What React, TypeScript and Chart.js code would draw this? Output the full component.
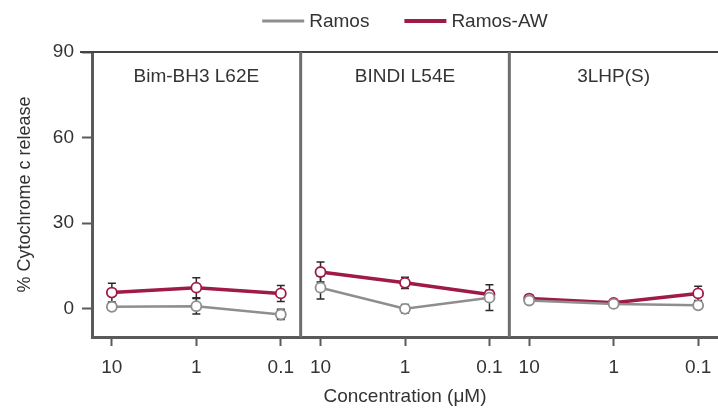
import React, { useEffect, useRef } from 'react';
import { Chart, registerables } from 'chart.js';

Chart.register(...registerables);

// ---- data ----
const panelTitles = ['Bim-BH3 L62E', 'BINDI L54E', '3LHP(S)'];
const concentrations = ['10', '1', '0.1'];
const yTickValues = [0, 30, 60, 90];
const seriesNames = ['Ramos', 'Ramos-AW'];
const xTitle = 'Concentration (\u03bcM)';
const yTitle = '% Cytochrome c release';

// values per panel (10, 1, 0.1 µM)
const ramosValues = [
  [0.6, 0.8, -2.1],
  [7.3, -0.1, 3.8],
  [2.8, 1.6, 1.1],
];
const ramosErrors = [
  [1.2, 2.7, 1.8],
  [4.0, 1.5, 4.5],
  [1.0, 0.8, 1.0],
];
const ramosAwValues = [
  [5.6, 7.3, 5.3],
  [12.8, 9.0, 4.9],
  [3.5, 2.0, 5.3],
];
const ramosAwErrors = [
  [3.3, 3.5, 2.8],
  [3.5, 2.0, 1.5],
  [1.0, 0.8, 2.5],
];

// ---- styles ----
const FONT = '"Liberation Sans", Arial, sans-serif';
const FS = 19;
const TEXT = '#333333';
const GRAY = '#8e8e8e';
const CRIMSON = '#9e1a49';
const AXIS = '#5a5a5a';
const M = 0.235; // margin inside each panel (in category units)
const W = 2 + 2 * M; // panel width in x units

const xPos = (p: number, i: number) => p * W + M + i;

function buildPoints(values: number[][]) {
  const pts: { x: number; y: number | null }[] = [];
  values.forEach((row, p) => {
    row.forEach((v, i) => pts.push({ x: xPos(p, i), y: v }));
    if (p < values.length - 1) pts.push({ x: (p + 1) * W, y: null });
  });
  return pts;
}

const tickPositions: number[] = [];
panelTitles.forEach((_, p) => concentrations.forEach((_, i) => tickPositions.push(xPos(p, i))));

const errorPlugin = {
  id: 'errorBars',
  beforeDatasetsDraw(chart: any) {
    const { ctx, scales } = chart;
    const xs = scales.x, ys = scales.y;
    const sets = [
      { v: ramosValues, e: ramosErrors },
      { v: ramosAwValues, e: ramosAwErrors },
    ];
    ctx.save();
    ctx.strokeStyle = '#2a2a2a';
    ctx.lineWidth = 1.5;
    sets.forEach(({ v, e }) => {
      v.forEach((row, p) =>
        row.forEach((val, i) => {
          const px = xs.getPixelForValue(xPos(p, i));
          const top = ys.getPixelForValue(val + e[p][i]);
          const bot = ys.getPixelForValue(val - e[p][i]);
          ctx.beginPath();
          ctx.moveTo(px, top);
          ctx.lineTo(px, bot);
          ctx.moveTo(px - 4, top);
          ctx.lineTo(px + 4, top);
          ctx.moveTo(px - 4, bot);
          ctx.lineTo(px + 4, bot);
          ctx.stroke();
        })
      );
    });
    ctx.restore();
  },
};

const framePlugin = {
  id: 'frame',
  afterDraw(chart: any) {
    const { ctx, chartArea, scales } = chart;
    const xs = scales.x;
    ctx.save();
    // top border
    ctx.strokeStyle = '#444444';
    ctx.lineWidth = 2;
    ctx.beginPath();
    ctx.moveTo(chartArea.left - 12, chartArea.top);
    ctx.lineTo(chartArea.right, chartArea.top);
    ctx.stroke();
    // panel dividers
    ctx.strokeStyle = '#6e6e6e';
    ctx.lineWidth = 3;
    for (let p = 1; p < panelTitles.length; p++) {
      const px = xs.getPixelForValue(p * W);
      ctx.beginPath();
      ctx.moveTo(px, chartArea.top);
      ctx.lineTo(px, chartArea.bottom);
      ctx.stroke();
    }
    // panel titles
    ctx.fillStyle = TEXT;
    ctx.font = `${FS}px ${FONT}`;
    ctx.textAlign = 'center';
    ctx.textBaseline = 'middle';
    panelTitles.forEach((t, p) => {
      ctx.fillText(t, xs.getPixelForValue(p * W + W / 2), chartArea.top + 25);
    });
    // legend
    const colors = [GRAY, CRIMSON];
    const widths = [3, 4];
    const lineLen = 42, gapText = 5, gapItem = 35;
    ctx.font = `${FS}px ${FONT}`;
    const itemW = seriesNames.map((n) => lineLen + gapText + ctx.measureText(n).width);
    const total = itemW.reduce((a, b) => a + b, 0) + gapItem * (seriesNames.length - 1);
    let x = (chartArea.left + chartArea.right) / 2 - total / 2;
    const ly = 21;
    seriesNames.forEach((n, k) => {
      ctx.strokeStyle = colors[k];
      ctx.lineWidth = widths[k];
      ctx.beginPath();
      ctx.moveTo(x, ly);
      ctx.lineTo(x + lineLen, ly);
      ctx.stroke();
      ctx.fillStyle = TEXT;
      ctx.textAlign = 'left';
      ctx.fillText(n, x + lineLen + gapText, ly + 1);
      x += itemW[k] + gapItem;
    });
    ctx.restore();
  },
};

export default function App() {
  const ref = useRef<HTMLCanvasElement | null>(null);

  useEffect(() => {
    document.body.style.margin = '0';
    if (!ref.current) return;
    const chart = new Chart(ref.current, {
      type: 'line',
      data: {
        datasets: [
          {
            label: seriesNames[0],
            data: buildPoints(ramosValues) as any,
            borderColor: GRAY,
            borderWidth: 2.5,
            pointBackgroundColor: '#ffffff',
            pointBorderColor: GRAY,
            pointBorderWidth: 1.8,
            pointRadius: 5,
            pointStyle: 'circle',
            spanGaps: false,
          },
          {
            label: seriesNames[1],
            data: buildPoints(ramosAwValues) as any,
            borderColor: CRIMSON,
            borderWidth: 3.5,
            pointBackgroundColor: '#ffffff',
            pointBorderColor: CRIMSON,
            pointBorderWidth: 1.8,
            pointRadius: 5,
            pointStyle: 'circle',
            spanGaps: false,
          },
        ],
      },
      options: {
        responsive: false,
        animation: false,
        layout: { autoPadding: false, padding: { top: 52, right: 0, left: 0, bottom: 0 } },
        plugins: {
          legend: { display: false },
          tooltip: { enabled: false },
        },
        scales: {
          x: {
            type: 'linear',
            min: 0,
            max: W * panelTitles.length,
            afterBuildTicks: (scale: any) => {
              scale.ticks = tickPositions.map((v) => ({ value: v }));
            },
            afterFit: (scale: any) => {
              scale.height = 410 - 337;
              scale.paddingRight = 0;
              scale.paddingLeft = 0;
            },
            ticks: {
              autoSkip: false,
              maxRotation: 0,
              padding: 0,
              color: TEXT,
              font: { family: FONT, size: FS, lineHeight: 2.25 },
              callback: (_v: any, idx: number) => concentrations[idx % concentrations.length],
            },
            grid: {
              drawOnChartArea: false,
              drawTicks: true,
              tickLength: 9,
              tickWidth: 2,
              color: AXIS,
            },
            border: { display: true, color: AXIS, width: 3 },
            title: {
              display: true,
              text: xTitle,
              color: TEXT,
              font: { family: FONT, size: FS },
              padding: 2,
            },
          },
          y: {
            min: -10,
            max: 90,
            afterBuildTicks: (scale: any) => {
              scale.ticks = yTickValues.map((v) => ({ value: v }));
            },
            afterFit: (scale: any) => {
              scale.width = 92;
            },
            ticks: {
              padding: 8,
              color: TEXT,
              font: { family: FONT, size: FS },
            },
            grid: {
              drawOnChartArea: false,
              drawTicks: true,
              tickLength: 10,
              tickWidth: 2,
              color: AXIS,
            },
            border: { display: true, color: AXIS, width: 3 },
            title: {
              display: true,
              text: yTitle,
              color: TEXT,
              font: { family: FONT, size: 18 },
              padding: { top: 14, bottom: 0 },
            },
          },
        },
      },
      plugins: [errorPlugin, framePlugin],
    });
    return () => chart.destroy();
  }, []);

  return (
    <div style={{ width: 718, height: 410 }}>
      <canvas ref={ref} width={718} height={410} style={{ display: 'block', width: 718, height: 410 }} />
    </div>
  );
}
